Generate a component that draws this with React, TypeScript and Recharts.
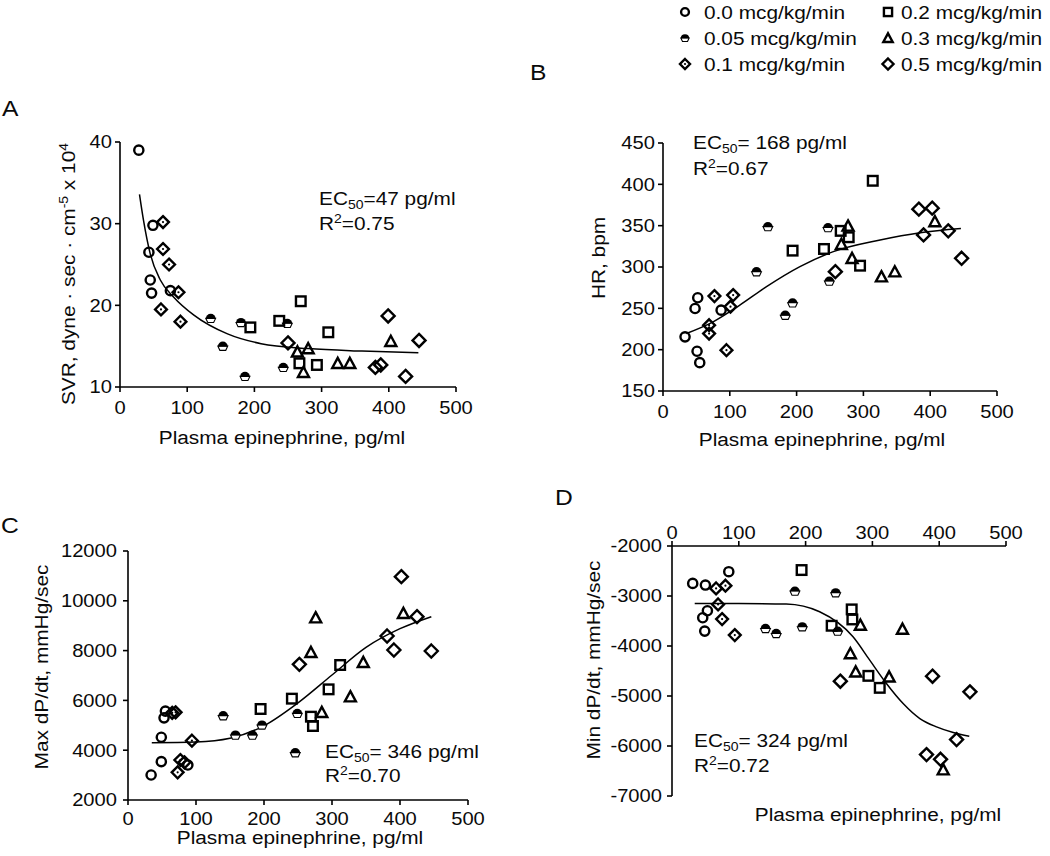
import React from 'react';
import { ScatterChart, Scatter, XAxis, YAxis } from 'recharts';

const FONT = '"Liberation Sans", Arial, sans-serif';
const INK = '#0a0a0a';
const SX = 1.12; // the source type is set a little wide

type Pt = [number, number];

const DOSE_LABELS = ['0.0 mcg/kg/min', '0.05 mcg/kg/min', '0.1 mcg/kg/min', '0.2 mcg/kg/min', '0.3 mcg/kg/min', '0.5 mcg/kg/min'];
const X_TICKS = [0, 100, 200, 300, 400, 500];

// A: SVR
const svr00: Pt[] = [[28, 39.0], [49, 29.8], [43, 26.5], [45, 23.1], [47, 21.5], [75, 21.8]];
const svr005: Pt[] = [[135, 18.4], [153, 15.0], [180, 17.9], [186, 11.3], [249, 17.8], [243, 12.4]];
const svr01: Pt[] = [[64, 30.2], [64, 26.9], [73, 25.0], [87, 21.6], [61, 19.5], [90, 18.0]];
const svr02: Pt[] = [[269, 20.5], [237, 18.1], [194, 17.3], [310, 16.7], [267, 12.9], [293, 12.7]];
const svr03: Pt[] = [[264, 14.3], [280, 14.7], [273, 11.8], [324, 12.9], [342, 12.9], [403, 15.6]];
const svr05: Pt[] = [[250, 15.4], [399, 18.7], [380, 12.4], [388, 12.7], [425, 11.3], [445, 15.7]];
const svrFit: Pt[] = [[29, 33.6], [35, 30.4], [45, 26.3], [60, 23.1], [80, 21.0], [110, 18.8], [160, 16.5], [210, 15.3], [280, 14.7], [360, 14.4], [444, 14.2]];
const svrTicks = [10, 20, 30, 40];

// B: HR
const hr00: Pt[] = [[33, 215.5], [52, 262.8], [48, 249.8], [51, 198.1], [55, 184.3], [87, 247.8]];
const hr005: Pt[] = [[157, 348.9], [140, 294.3], [194, 256.7], [183, 241.7], [247, 347.7], [249, 283]];
const hr01: Pt[] = [[77, 264.8], [105, 266], [101, 252], [69, 229.6], [69, 219.5], [95, 199.4]];
const hr02: Pt[] = [[314, 404.3], [194, 319.8], [241, 321.8], [266, 343.7], [278, 336], [295, 301.6]];
const hr03: Pt[] = [[277, 349.7], [267, 327.5], [283, 310.5], [327, 288.3], [347, 294.3], [407, 355]];
const hr05: Pt[] = [[258, 294.4], [383, 370], [403, 371.2], [390, 338.8], [427, 343.7], [447, 310.5]];
const hrFit: Pt[] = [[35, 219.6], [75, 233.7], [115, 253.9], [155, 276.2], [205, 300.4], [255, 318.6], [325, 332.7], [385, 341.5], [446, 346.5]];
const hrTicks = [150, 200, 250, 300, 350, 400, 450];

// C: max dP/dt
const max00: Pt[] = [[34, 3004], [49, 3540], [49, 4520], [53, 5300], [55, 5570], [88, 3405]];
const max005: Pt[] = [[140, 5387], [158, 4610], [183, 4610], [197, 5012], [249, 5480], [246, 3901]];
const max01: Pt[] = [[65, 5500], [70, 5520], [94, 4383], [77, 3606], [83, 3513], [73, 3111]];
const max02: Pt[] = [[195, 5655], [241, 6070], [312, 7422], [295, 6444], [269, 5346], [272, 4972]];
const max03: Pt[] = [[276, 9323], [269, 7930], [346, 7529], [327, 6150], [285, 5520], [405, 9496]];
const max05: Pt[] = [[252, 7448], [402, 10969], [381, 8587], [391, 8024], [425, 9363], [446, 7984]];
const maxFit: Pt[] = [[35, 4300], [100, 4330], [150, 4480], [200, 4980], [250, 5900], [300, 7020], [350, 8130], [400, 8880], [446, 9363]];
const maxTicks = [2000, 4000, 6000, 8000, 10000, 12000];

// D: min dP/dt
const min00: Pt[] = [[31, -2748], [50, -2781], [85, -2514], [46, -3435], [53, -3295], [49, -3702]];
const min005: Pt[] = [[184, -2901], [245, -2935], [140, -3649], [156, -3749], [195, -3615], [248, -3702]];
const min01: Pt[] = [[66, -2848], [80, -2794], [69, -3168], [75, -3462], [94, -3782]];
const min02: Pt[] = [[194, -2481], [269, -3268], [270, -3469], [239, -3595], [294, -4597], [311, -4837]];
const min03: Pt[] = [[282, -3582], [345, -3662], [267, -4150], [275, -4517], [325, -4617], [406, -6473]];
const min05: Pt[] = [[252, -4704], [390, -4604], [446, -4917], [426, -5872], [381, -6172], [402, -6266]];
const minFit: Pt[] = [[34, -3148], [100, -3150], [171, -3160], [221, -3315], [271, -3816], [296, -4283], [321, -4750], [346, -5151], [371, -5451], [396, -5618], [421, -5731], [445, -5805]];
const minTicks = [-7000, -6000, -5000, -4000, -3000, -2000];

const toXY = (a: Pt[]) => a.map(([x, y]) => ({ x, y }));

// ---- marker shapes (same order as DOSE_LABELS) ----
const SW = 2.4;
const OpenCircle = ({ cx, cy, k = 1 }: any) => (
  <circle cx={cx} cy={cy} r={4.6 * k} fill="none" stroke="#000" strokeWidth={SW} />
);
const HalfCircle = ({ cx, cy, k = 1 }: any) => {
  const r = 4.9 * k;
  return (
    <g>
      <path d={`M${cx - r},${cy} L${cx - r * 0.6},${cy + r * 0.85} L${cx + r * 0.6},${cy + r * 0.85} L${cx + r},${cy} Z`} fill="#fff" stroke="#000" strokeWidth={1.1} />
      <path d={`M${cx - r},${cy + 0.3} A${r},${r} 0 0 1 ${cx + r},${cy + 0.3} Z`} fill="#000" />
    </g>
  );
};
const DotDiamond = ({ cx, cy, k = 1 }: any) => {
  const d = 5.9 * k;
  return (
    <g>
      <polygon points={`${cx},${cy - d} ${cx + d},${cy} ${cx},${cy + d} ${cx - d},${cy}`} fill="none" stroke="#000" strokeWidth={SW} />
      <circle cx={cx} cy={cy} r={1.1} fill="#000" />
    </g>
  );
};
const OpenSquare = ({ cx, cy, k = 1 }: any) => {
  const s = 4.8 * k;
  return <rect x={cx - s} y={cy - s} width={2 * s} height={2 * s} fill="none" stroke="#000" strokeWidth={SW} />;
};
const OpenTriangle = ({ cx, cy, k = 1 }: any) => {
  const s = 5.5 * k;
  return <polygon points={`${cx},${cy - s} ${cx + s},${cy + s * 0.85} ${cx - s},${cy + s * 0.85}`} fill="none" stroke="#000" strokeWidth={SW} strokeLinejoin="miter" />;
};
const OpenDiamond = ({ cx, cy, k = 1 }: any) => {
  const d = 6.5 * k;
  return <polygon points={`${cx},${cy - d} ${cx + d},${cy} ${cx},${cy + d} ${cx - d},${cy}`} fill="none" stroke="#000" strokeWidth={SW} />;
};
const SHAPES = [OpenCircle, HalfCircle, DotDiamond, OpenSquare, OpenTriangle, OpenDiamond];

// ---- text with a slight horizontal stretch ----
function T({ x, y, size, anchor = 'start', rotate = false, children }: any) {
  const tr = rotate ? `translate(${x},${y}) rotate(-90) scale(${SX},1)` : `translate(${x},${y}) scale(${SX},1)`;
  return (
    <text transform={tr} textAnchor={anchor} fontSize={size} fontFamily={FONT} fill={INK}>
      {children}
    </text>
  );
}

const TICK_FS = 18;
const xTickBottom = (p: any) => (
  <text transform={`translate(${p.x},${p.y}) scale(${SX},1)`} dy={TICK_FS * 0.72} textAnchor="middle" fontSize={TICK_FS} fontFamily={FONT} fill={INK}>
    {p.payload.value}
  </text>
);
const xTickTop = (p: any) => (
  <text transform={`translate(${p.x},${p.y}) scale(${SX},1)`} textAnchor="middle" fontSize={TICK_FS} fontFamily={FONT} fill={INK}>
    {p.payload.value}
  </text>
);
const yTick = (p: any) => (
  <text transform={`translate(${p.x},${p.y}) scale(${SX},1)`} dy={TICK_FS * 0.36} textAnchor="end" fontSize={TICK_FS} fontFamily={FONT} fill={INK}>
    {p.payload.value}
  </text>
);

type Panel = {
  px: number; py: number; pw: number; ph: number;
  yDomain: [number, number]; yTicks: number[];
  series: Pt[][]; fit: Pt[];
  top?: boolean; yMargin: number; xMargin: number;
};

const AXIS = { stroke: '#000', strokeWidth: 1.6 };

function PanelChart({ px, py, pw, ph, yDomain, yTicks, series, fit, top, yMargin, xMargin }: Panel) {
  const left = px - 110;
  const topPos = top ? py - 40 : py - 20;
  return (
    <div style={{ position: 'absolute', left, top: topPos }}>
      <ScatterChart
        width={pw + 140}
        height={ph + 60}
        margin={top ? { top: 0, right: 30, bottom: 20, left: 0 } : { top: 20, right: 30, bottom: 0, left: 0 }}
        style={{ overflow: 'visible' }}
      >
        <XAxis
          type="number" dataKey="x" domain={[0, 500]} ticks={X_TICKS} allowDataOverflow
          orientation={top ? 'top' : 'bottom'} height={40}
          axisLine={AXIS} tickLine={AXIS} tickSize={5} tickMargin={xMargin}
          tick={top ? xTickTop : xTickBottom} interval={0}
        />
        <YAxis
          type="number" dataKey="y" domain={yDomain} ticks={yTicks} allowDataOverflow
          width={110} axisLine={AXIS} tickLine={AXIS} tickSize={5} tickMargin={yMargin}
          tick={yTick} interval={0}
        />
        <Scatter
          data={toXY(fit)} isAnimationActive={false}
          line={{ stroke: '#000', strokeWidth: 1.5 }} lineJointType="monotoneX"
          shape={() => <g />}
        />
        {series.map((s, i) => {
          const Shape = SHAPES[i];
          return (
            <Scatter
              key={i} data={toXY(s)} isAnimationActive={false}
              shape={(p: any) => <Shape cx={p.cx} cy={p.cy} />}
            />
          );
        })}
      </ScatterChart>
    </div>
  );
}

const LAB_FS = 18.6;
const SUP = { fontSize: 12.5 };

function Overlay() {
  const legendRows = [12, 38, 64];
  return (
    <svg width={1050} height={856} style={{ position: 'absolute', left: 0, top: 0, pointerEvents: 'none', overflow: 'visible' }}>
      {/* legend */}
      {DOSE_LABELS.map((lab, i) => {
        const col = i < 3 ? 0 : 1;
        const row = i % 3;
        const Shape = SHAPES[i];
        const mx = col === 0 ? 685 : 888;
        const tx = col === 0 ? 704 : 901;
        const cy = legendRows[row];
        return (
          <g key={lab}>
            <Shape cx={mx} cy={cy} k={0.85} />
            <T x={tx} y={cy + 6.6} size={LAB_FS}>{lab}</T>
          </g>
        );
      })}

      {/* panel letters */}
      <T x={2} y={116} size={22}>A</T>
      <T x={530} y={80} size={22}>B</T>
      <T x={1} y={533} size={22}>C</T>
      <T x={555} y={505} size={22}>D</T>

      {/* axis titles */}
      <T x={75} y={274} size={LAB_FS} anchor="middle" rotate>
        SVR, dyne · sec · cm<tspan dy={-7} style={SUP}>-5</tspan><tspan dy={7}> x 10</tspan><tspan dy={-7} style={SUP}>4</tspan>
      </T>
      <T x={282} y={444} size={LAB_FS} anchor="middle">Plasma epinephrine, pg/ml</T>

      <T x={605} y={258} size={LAB_FS} anchor="middle" rotate>HR, bpm</T>
      <T x={822} y={446} size={LAB_FS} anchor="middle">Plasma epinephrine, pg/ml</T>

      <T x={48} y={667} size={LAB_FS} anchor="middle" rotate>Max dP/dt, mmHg/sec</T>
      <T x={300} y={844} size={LAB_FS} anchor="middle">Plasma epinephrine, pg/ml</T>

      <T x={600} y={660} size={LAB_FS} anchor="middle" rotate>Min dP/dt, mmHg/sec</T>
      <T x={878} y={821} size={LAB_FS} anchor="middle">Plasma epinephrine, pg/ml</T>

      {/* fit annotations */}
      <T x={319} y={205} size={LAB_FS}>EC<tspan dy={4} style={SUP}>50</tspan><tspan dy={-4}>=47 pg/ml</tspan></T>
      <T x={319} y={230} size={LAB_FS}>R<tspan dy={-7} style={SUP}>2</tspan><tspan dy={7}>=0.75</tspan></T>

      <T x={693} y={149} size={LAB_FS}>EC<tspan dy={4} style={SUP}>50</tspan><tspan dy={-4}>= 168 pg/ml</tspan></T>
      <T x={693} y={175} size={LAB_FS}>R<tspan dy={-7} style={SUP}>2</tspan><tspan dy={7}>=0.67</tspan></T>

      <T x={325} y={758} size={LAB_FS}>EC<tspan dy={4} style={SUP}>50</tspan><tspan dy={-4}>= 346 pg/ml</tspan></T>
      <T x={325} y={782} size={LAB_FS}>R<tspan dy={-7} style={SUP}>2</tspan><tspan dy={7}>=0.70</tspan></T>

      <T x={694} y={747} size={LAB_FS}>EC<tspan dy={4} style={SUP}>50</tspan><tspan dy={-4}>= 324 pg/ml</tspan></T>
      <T x={694} y={772} size={LAB_FS}>R<tspan dy={-7} style={SUP}>2</tspan><tspan dy={7}>=0.72</tspan></T>
    </svg>
  );
}

export default function App() {
  return (
    <div style={{ position: 'absolute', left: 0, top: 0, width: 1050, height: 856, background: '#fff', overflow: 'hidden' }}>
      <PanelChart px={120} py={142} pw={336} ph={245} yDomain={[10, 40]} yTicks={svrTicks}
        series={[svr00, svr005, svr01, svr02, svr03, svr05]} fit={svrFit} yMargin={3} xMargin={9} />
      <PanelChart px={663} py={143} pw={334} ph={248} yDomain={[150, 450]} yTicks={hrTicks}
        series={[hr00, hr005, hr01, hr02, hr03, hr05]} fit={hrFit} yMargin={3} xMargin={9} />
      <PanelChart px={128} py={551} pw={340} ph={249} yDomain={[2000, 12000]} yTicks={maxTicks}
        series={[max00, max005, max01, max02, max03, max05]} fit={maxFit} yMargin={6} xMargin={7} />
      <PanelChart px={672} py={546} pw={334} ph={250} yDomain={[-7000, -2000]} yTicks={minTicks}
        series={[min00, min005, min01, min02, min03, min05]} fit={minFit} yMargin={5} xMargin={2} top />
      <Overlay />
    </div>
  );
}
